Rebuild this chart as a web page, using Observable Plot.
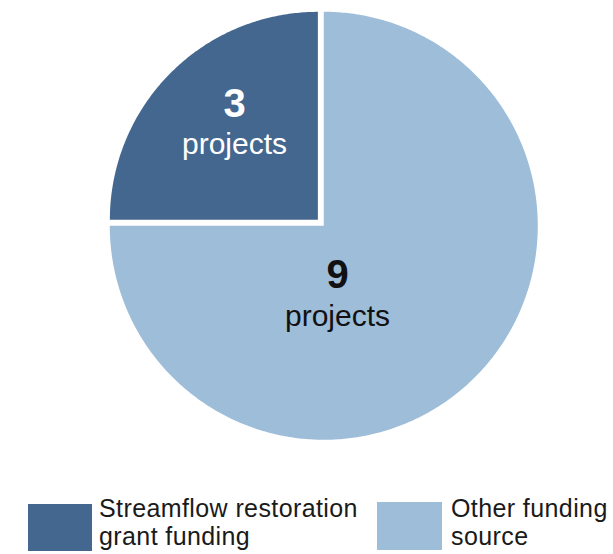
<!DOCTYPE html>
<html>
<head>
<meta charset="utf-8">
<script src="https://cdn.jsdelivr.net/npm/d3@7"></script>
<script src="https://cdn.jsdelivr.net/npm/@observablehq/plot@0.6"></script>
<style>
  html, body { margin: 0; padding: 0; background: #fff; }
  #wrap { position: relative; width: 613px; height: 554px; overflow: hidden; font-family: "Liberation Sans", Arial, sans-serif; }
  .sw { position: absolute; }
  .lt { position: absolute; font-size: 25px; line-height: 28px; color: #1a1a1a; letter-spacing: 0.4px; white-space: nowrap; }
</style>
</head>
<body>
<div id="wrap"></div>
<script>
// ---- data ----
const categories = ["Streamflow restoration grant funding", "Other funding source"];
const legendLines = [["Streamflow restoration", "grant funding"], ["Other funding", "source"]];
const projectCounts = [3, 9];
const unitLabel = "projects";
const colors = ["#44678f", "#9ebdd9"];
const labelColors = ["#ffffff", "#111111"];

// ---- layout config (not data) ----
const W = 613, H = 490;
const explode = [0.024, 0.015];   // offset along mid-angle, in radius units
const radius = [0.972, 1.0];
const labelPos = [{x: -0.4065, yNum: 0.556, yTxt: 0.372}, {x: 0.0748, yNum: -0.243, yTxt: -0.436}];

const pie = d3.pie().sort(null).startAngle(-Math.PI / 2).endAngle(3 * Math.PI / 2)(projectCounts);

const pts = [];
pie.forEach((s, i) => {
  const mid = (s.startAngle + s.endAngle) / 2;
  const ox = explode[i] * Math.sin(mid), oy = explode[i] * Math.cos(mid);
  const r = radius[i];
  pts.push({cat: categories[i], x: ox, y: oy});
  const n = Math.max(2, Math.ceil((s.endAngle - s.startAngle) / 0.01));
  for (let k = 0; k <= n; k++) {
    const a = s.startAngle + (s.endAngle - s.startAngle) * k / n;
    pts.push({cat: categories[i], x: ox + r * Math.sin(a), y: oy + r * Math.cos(a)});
  }
  pts.push({cat: categories[i], x: ox, y: oy});
});

const labels = projectCounts.map((v, i) => ({num: String(v), txt: unitLabel, ...labelPos[i], color: labelColors[i]}));

const chart = Plot.plot({
  width: W, height: H,
  marginLeft: 107, marginRight: 78, marginTop: 9, marginBottom: 53,
  x: {domain: [-1, 1], axis: null},
  y: {domain: [-1, 1], axis: null},
  color: {domain: categories, range: colors},
  style: {fontFamily: '"Liberation Sans", Arial, sans-serif', background: "#fff"},
  marks: [
    Plot.line(pts, {x: "x", y: "y", z: "cat", fill: "cat", stroke: "none", curve: "linear"}),
    Plot.text(labels, {x: "x", y: "yNum", text: "num", fill: "color", fontSize: 40, fontWeight: "bold", lineAnchor: "middle", textAnchor: "middle"}),
    Plot.text(labels, {x: "x", y: "yTxt", text: "txt", fill: "color", fontSize: 30, lineAnchor: "middle", textAnchor: "middle"})
  ]
});
chart.style.position = "absolute";
chart.style.left = "0px";
chart.style.top = "0px";
const wrap = document.getElementById("wrap");
wrap.appendChild(chart);

// ---- legend (HTML) ----
const legendLayout = [{sx: 28, sy: 504, sw: 64, sh: 47, tx: 99}, {sx: 377, sy: 502, sw: 65, sh: 48, tx: 451}];
categories.forEach((c, i) => {
  const L = legendLayout[i];
  const sw = document.createElement("div");
  sw.className = "sw";
  Object.assign(sw.style, {left: L.sx + "px", top: L.sy + "px", width: L.sw + "px", height: L.sh + "px", background: colors[i]});
  wrap.appendChild(sw);
  const t = document.createElement("div");
  t.className = "lt";
  t.style.left = L.tx + "px";
  t.style.top = "494px";
  t.innerHTML = legendLines[i].join("<br>");
  wrap.appendChild(t);
});
</script>
</body>
</html>
